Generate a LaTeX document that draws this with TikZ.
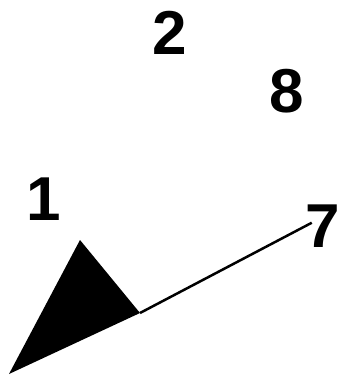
\documentclass[tikz,border=0pt]{standalone}
\usepackage{fontspec}
\setmainfont{Liberation Sans}
\usepackage{tikz}

\begin{document}
\begin{tikzpicture}[
    x=1pt, y=-1pt,
    lbl/.style={font=\bfseries\fontsize{62}{62}\selectfont, inner sep=0pt},
    edge/.style={line width=2.5pt}
  ]
    \useasboundingbox (0,0) rectangle (339,376);
    \node[lbl] (n2) at (170,33) {2};
    \node[lbl] (n8) at (287,91) {8};
    \node[lbl] (n1) at (44,199) {1};
    \node[lbl] (n7) at (323,226) {7};
    % filled head
    \coordinate (top) at (80,240);
    \coordinate (tip) at (9,374);
    \coordinate (rgt) at (140,313);
    \fill (top) -- (tip) -- (rgt) -- cycle;
    \draw[edge, shorten >=-7pt] (rgt) -- (n7.west);
  \end{tikzpicture}
\end{document}
